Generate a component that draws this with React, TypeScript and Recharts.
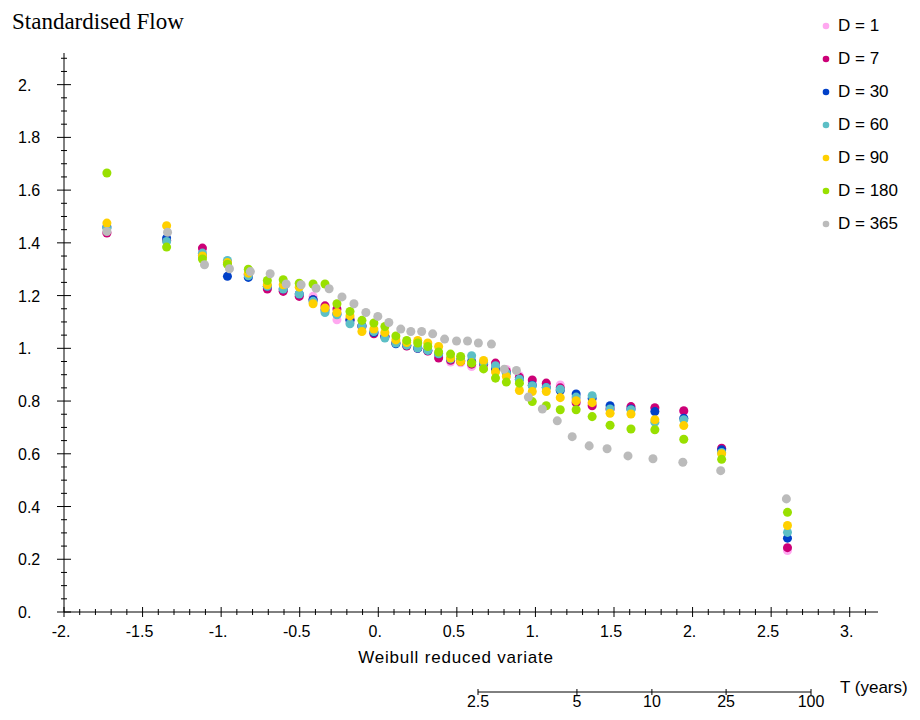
import React from "react";
import { ScatterChart, Scatter, XAxis, YAxis, ZAxis, Legend, LineChart, Line, ReferenceLine } from "recharts";

// plotting positions (Weibull reduced variate)
const xDaily = [
  -1.727, -1.347, -1.119, -0.96, -0.827, -0.706, -0.605, -0.503, -0.415, -0.339,
  -0.263, -0.18, -0.104, -0.028, 0.042, 0.112, 0.181, 0.251, 0.315, 0.384,
  0.46, 0.524, 0.594, 0.67, 0.746, 0.815, 0.898, 0.98, 1.069, 1.158,
  1.259, 1.361, 1.475, 1.608, 1.76, 1.944, 2.185, 2.604,
];
const xAnnual = [
  -1.727, -1.341, -1.106, -0.947, -0.814, -0.688, -0.586, -0.491, -0.396, -0.313,
  -0.231, -0.155, -0.079, -0.003, 0.067, 0.143, 0.207, 0.276, 0.346, 0.422,
  0.498, 0.568, 0.637, 0.72, 0.802, 0.879, 0.955, 1.044, 1.139, 1.234,
  1.342, 1.456, 1.589, 1.748, 1.938, 2.179, 2.597,
];

// standardised flow for each duration
const flowD1 = [
  1.44, 1.41, 1.37, 1.325, 1.28, 1.23, 1.22, 1.2, 1.197, 1.155,
  1.108, 1.1, 1.08, 1.06, 1.045, 1.02, 1.01, 1.0, 0.99, 0.965,
  0.948, 0.945, 0.931, 0.93, 0.935, 0.92, 0.896, 0.87, 0.86, 0.861,
  0.81, 0.79, 0.77, 0.77, 0.77, 0.76, 0.615, 0.233,
];
const flowD7 = [
  1.437, 1.41, 1.38, 1.325, 1.28, 1.225, 1.216, 1.197, 1.184, 1.161,
  1.149, 1.11, 1.085, 1.055, 1.045, 1.02, 1.009, 1.0, 0.99, 0.963,
  0.955, 0.95, 0.94, 0.94, 0.944, 0.912, 0.89, 0.88, 0.868, 0.85,
  0.794, 0.782, 0.77, 0.779, 0.775, 0.763, 0.621, 0.244,
];
const flowD30 = [
  1.46, 1.418, 1.351, 1.273, 1.269, 1.235, 1.225, 1.206, 1.184, 1.145,
  1.13, 1.106, 1.085, 1.06, 1.045, 1.017, 1.012, 1.0, 0.992, 0.979,
  0.96, 0.955, 0.95, 0.945, 0.921, 0.906, 0.883, 0.86, 0.851, 0.84,
  0.827, 0.81, 0.782, 0.77, 0.76, 0.735, 0.615, 0.28,
];
const flowD60 = [
  1.455, 1.405, 1.361, 1.333, 1.275, 1.235, 1.225, 1.206, 1.178, 1.136,
  1.127, 1.093, 1.085, 1.064, 1.039, 1.02, 1.012, 1.001, 0.992, 0.979,
  0.96, 0.955, 0.972, 0.945, 0.934, 0.906, 0.883, 0.858, 0.851, 0.845,
  0.815, 0.82, 0.77, 0.767, 0.72, 0.729, 0.605, 0.302,
];
const flowD90 = [
  1.475, 1.465, 1.35, 1.325, 1.285, 1.241, 1.241, 1.232, 1.169, 1.153,
  1.136, 1.123, 1.064, 1.073, 1.06, 1.032, 1.022, 1.03, 1.02, 1.007,
  0.963, 0.95, 0.945, 0.954, 0.91, 0.893, 0.84, 0.836, 0.836, 0.813,
  0.801, 0.794, 0.754, 0.751, 0.729, 0.707, 0.6, 0.328,
];
const flowD180 = [
  1.665, 1.384, 1.339, 1.319, 1.3, 1.257, 1.26, 1.247, 1.244, 1.244,
  1.169, 1.14, 1.106, 1.096, 1.083, 1.047, 1.03, 1.02, 1.007, 0.986,
  0.978, 0.969, 0.944, 0.922, 0.887, 0.872, 0.868, 0.798, 0.782, 0.767,
  0.767, 0.741, 0.708, 0.694, 0.691, 0.655, 0.579, 0.378,
];
const flowD365 = [
  1.443, 1.44, 1.317, 1.302, 1.291, 1.283, 1.244, 1.241, 1.228, 1.226,
  1.195, 1.169, 1.136, 1.121, 1.098, 1.073, 1.064, 1.064, 1.055, 1.035,
  1.028, 1.028, 1.02, 1.016, 0.921, 0.916, 0.815, 0.77, 0.725, 0.665,
  0.63, 0.619, 0.592, 0.581, 0.568, 0.536, 0.429,
];

const seriesNames = ["D = 1", "D = 7", "D = 30", "D = 60", "D = 90", "D = 180", "D = 365"];
const seriesColors = ["#ffa8f0", "#cc0077", "#0040c8", "#5cbfc6", "#ffd000", "#99e000", "#bbbbbb"];

const xMajorTicks = [-2, -1.5, -1, -0.5, 0, 0.5, 1, 1.5, 2, 2.5, 3];
const xTickLabels = ["-2.", "-1.5", "-1.", "-0.5", "0.", "0.5", "1.", "1.5", "2.", "2.5", "3."];
const yMajorTicks = [0, 0.2, 0.4, 0.6, 0.8, 1, 1.2, 1.4, 1.6, 1.8, 2];
const yTickLabels = ["0.", "0.2", "0.4", "0.6", "0.8", "1.", "1.2", "1.4", "1.6", "1.8", "2."];

// return period axis
const tYears = ["2.5", "5", "10", "25", "100"];
const tVariate = [0.623, 1.251, 1.727, 2.198, 2.737];

// minor ticks every 0.1 on x, 0.05 on y
const xTicks = Array.from({ length: 52 }, (_, i) => Math.round((-2 + i * 0.1) * 10) / 10);
const yTicks = Array.from({ length: 43 }, (_, i) => Math.round(i * 5) / 100);

const FONT = "'Liberation Sans', Arial, sans-serif";

const toPoints = (xs: number[], ys: number[]) => ys.map((y, i) => ({ x: xs[i], y }));

const seriesData = [
  toPoints(xDaily, flowD1),
  toPoints(xDaily, flowD7),
  toPoints(xDaily, flowD30),
  toPoints(xDaily, flowD60),
  toPoints(xDaily, flowD90),
  toPoints(xDaily, flowD180),
  toPoints(xAnnual, flowD365),
];

const findIdx = (arr: number[], v: number) => arr.findIndex((a) => Math.abs(a - v) < 1e-6);

function XTick(props: any) {
  const { x, y, payload } = props;
  const i = findIdx(xMajorTicks, payload.value);
  const h = i >= 0 ? 5 : 3;
  return (
    <g>
      <line x1={x} x2={x} y1={y - h} y2={y + h} stroke="#000" />
      {i >= 0 && (
        <text x={x - 3} y={y + 25} textAnchor="middle" fontSize={16} fontFamily={FONT} fill="#000">
          {xTickLabels[i]}
        </text>
      )}
    </g>
  );
}

function YTick(props: any) {
  const { x, y, payload } = props;
  const i = findIdx(yMajorTicks, payload.value);
  const w = i >= 0 ? 7 : 3;
  return (
    <g>
      <line x1={x - w} x2={x + w} y1={y} y2={y} stroke="#000" />
      {i >= 0 && (
        <text x={x - 46} y={y + 6} textAnchor="start" fontSize={16} fontFamily={FONT} fill="#000">
          {yTickLabels[i]}
        </text>
      )}
    </g>
  );
}

function TTick(props: any) {
  const { x, y, payload } = props;
  const i = findIdx(tVariate, payload.value);
  return (
    <g>
      <line x1={x} x2={x} y1={y - 3} y2={y + 3} stroke="#000" />
      <text x={x} y={y + 15} textAnchor="middle" fontSize={16} fontFamily={FONT} fill="#000">
        {tYears[i]}
      </text>
    </g>
  );
}

function LegendContent({ payload }: any) {
  const items = [...(payload || [])].sort(
    (a: any, b: any) => seriesNames.indexOf(a.value) - seriesNames.indexOf(b.value)
  );
  return (
    <div>
      {items.map((e: any) => (
        <div
          key={e.value}
          style={{ height: 33, display: "flex", alignItems: "center", fontFamily: FONT, fontSize: 17, color: "#000" }}
        >
          <svg width={20} height={10} style={{ flex: "none" }}>
            <circle cx={8} cy={5} r={3.3} fill={e.color} />
          </svg>
          <span>{e.value}</span>
        </div>
      ))}
    </div>
  );
}

export default function App() {
  const tData = tVariate.map((x) => ({ x, y: 0 }));
  return (
    <div style={{ position: "absolute", left: 0, top: 0, width: 920, height: 720, background: "#fff" }}>
      <div
        style={{
          position: "absolute", left: 12, top: 9, fontFamily: "'Liberation Serif', 'Times New Roman', serif",
          fontSize: 23, lineHeight: "26px", color: "#000", whiteSpace: "nowrap",
        }}
      >
        Standardised Flow
      </div>

      <ScatterChart
        width={920}
        height={720}
        margin={{ top: 53, right: 42, bottom: 48, left: 0 }}
        style={{ position: "absolute", left: 0, top: 0 }}
      >
        <XAxis
          type="number"
          dataKey="x"
          domain={[-2, 3.18]}
          ticks={xTicks}
          interval={0}
          height={60}
          tickSize={0}
          tickMargin={0}
          tickLine={false}
          axisLine={{ stroke: "#000" }}
          tick={<XTick />}
          allowDataOverflow
        />
        <YAxis
          type="number"
          dataKey="y"
          domain={[0, 2.12]}
          ticks={yTicks}
          interval={0}
          width={64}
          tickSize={0}
          tickMargin={0}
          tickLine={false}
          axisLine={{ stroke: "#000" }}
          tick={<YTick />}
          allowDataOverflow
        />
        <ZAxis range={[36, 36]} />
        <Legend
          layout="vertical"
          align="center"
          verticalAlign="middle"
          wrapperStyle={{ left: 818, top: 9.5, width: 100 }}
          content={<LegendContent />}
        />
        {seriesData.map((d, i) => (
          <Scatter
            key={seriesNames[i]}
            name={seriesNames[i]}
            data={d}
            fill={seriesColors[i]}
            isAnimationActive={false}
          />
        ))}
      </ScatterChart>

      <div
        style={{
          position: "absolute", left: 456, top: 648, transform: "translateX(-50%)", fontFamily: FONT,
          fontSize: 17, letterSpacing: 0.8, lineHeight: "20px", color: "#000", whiteSpace: "nowrap",
        }}
      >
        Weibull reduced variate
      </div>

      <LineChart
        width={420}
        height={50}
        data={tData}
        margin={{ top: 0, right: 67, bottom: 0, left: 20 }}
        style={{ position: "absolute", left: 458, top: 682 }}
      >
        <XAxis
          type="number"
          dataKey="x"
          domain={[tVariate[0], tVariate[tVariate.length - 1]]}
          ticks={tVariate}
          interval={0}
          height={40}
          tickSize={0}
          tickMargin={0}
          tickLine={false}
          axisLine={false}
          tick={<TTick />}
        />
        <YAxis hide domain={[0, 1]} />
        <ReferenceLine y={0} stroke="#000" strokeWidth={1} />
        <Line dataKey="y" stroke="none" dot={false} isAnimationActive={false} />
      </LineChart>

      <div
        style={{
          position: "absolute", left: 840, top: 678, fontFamily: FONT, fontSize: 17,
          lineHeight: "20px", color: "#000", whiteSpace: "nowrap",
        }}
      >
        T (years)
      </div>
    </div>
  );
}
